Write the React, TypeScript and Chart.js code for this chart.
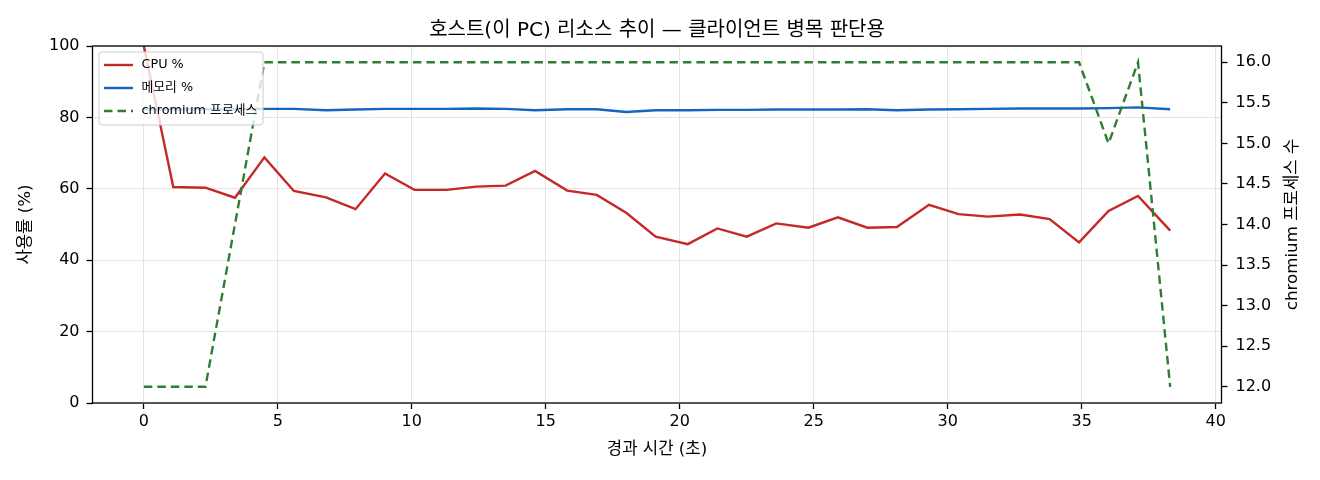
import React, { useEffect, useRef } from "react";
import { Chart, registerables } from "chart.js";

Chart.register(...registerables);

// ---- data ----
const times = [0, 1.1, 2.3, 3.4, 4.5, 5.6, 6.8, 7.9, 9.0, 10.1, 11.3, 12.4, 13.5, 14.6, 15.8, 16.9, 18.0, 19.1, 20.3, 21.4, 22.5, 23.6, 24.8, 25.9, 27.0, 28.1, 29.3, 30.4, 31.5, 32.7, 33.8, 34.9, 36.0, 37.1, 38.3];
const cpuPct = [100, 60.5, 60.3, 57.5, 68.8, 59.4, 57.6, 54.3, 64.3, 59.7, 59.7, 60.6, 60.9, 65.0, 59.5, 58.3, 53.3, 46.6, 44.5, 48.9, 46.6, 50.3, 49.1, 52.0, 49.1, 49.3, 55.5, 52.9, 52.2, 52.8, 51.5, 45.0, 53.8, 58.0, 48.3];
const memPct = [82.3, 82.3, 82.3, 82.3, 82.4, 82.4, 82.0, 82.2, 82.4, 82.4, 82.4, 82.5, 82.4, 82.0, 82.3, 82.3, 81.5, 82.0, 82.0, 82.1, 82.1, 82.2, 82.2, 82.2, 82.3, 82.0, 82.2, 82.3, 82.4, 82.5, 82.5, 82.5, 82.6, 82.8, 82.3];
const chromiumProcs = [12, 12, 12, 14, 16, 16, 16, 16, 16, 16, 16, 16, 16, 16, 16, 16, 16, 16, 16, 16, 16, 16, 16, 16, 16, 16, 16, 16, 16, 16, 16, 16, 15, 16, 12];

const xTicks = [0, 5, 10, 15, 20, 25, 30, 35, 40];
const leftTicks = [0, 20, 40, 60, 80, 100];
const rightTicks = [12.0, 12.5, 13.0, 13.5, 14.0, 14.5, 15.0, 15.5, 16.0];

const titleText = "호스트(이 PC) 리소스 추이 — 클라이언트 병목 판단용";
const xTitle = "경과 시간 (초)";
const yLeftTitle = "사용률 (%)";
const yRightTitle = "chromium 프로세스 수";
const seriesLabels = ["CPU %", "메모리 %", "chromium 프로세스"];
const seriesColors = ["#c62828", "#1565c0", "#2e7d32"];

const FONT = '"DejaVu Sans", "Noto Sans CJK KR", sans-serif';

const toPoints = (ys: number[]) => ys.map((y, i) => ({ x: times[i], y }));

const overlayPlugin = {
  id: "overlay",
  afterDatasetsDraw(chart: any) {
    const { ctx, chartArea: ca } = chart;
    ctx.save();
    ctx.strokeStyle = "#000";
    ctx.lineWidth = 1.3;
    ctx.strokeRect(ca.left, ca.top, ca.right - ca.left, ca.bottom - ca.top);
    ctx.restore();
  },
  afterDraw(chart: any) {
    const { ctx, chartArea: ca } = chart;
    ctx.save();
    // chart title
    ctx.fillStyle = "#000";
    ctx.font = `20px ${FONT}`;
    ctx.textAlign = "center";
    ctx.textBaseline = "middle";
    ctx.fillText(titleText, (ca.left + ca.right) / 2, 31);

    // right axis title (reads bottom to top)
    ctx.save();
    ctx.translate(1293, (ca.top + ca.bottom) / 2);
    ctx.rotate(-Math.PI / 2);
    ctx.font = `16.7px ${FONT}`;
    ctx.fillText(yRightTitle, 0, 0);
    ctx.restore();

    // legend box
    const bx = 99, by = 52, bw = 164, bh = 73, r = 3;
    ctx.beginPath();
    ctx.moveTo(bx + r, by);
    ctx.lineTo(bx + bw - r, by);
    ctx.quadraticCurveTo(bx + bw, by, bx + bw, by + r);
    ctx.lineTo(bx + bw, by + bh - r);
    ctx.quadraticCurveTo(bx + bw, by + bh, bx + bw - r, by + bh);
    ctx.lineTo(bx + r, by + bh);
    ctx.quadraticCurveTo(bx, by + bh, bx, by + bh - r);
    ctx.lineTo(bx, by + r);
    ctx.quadraticCurveTo(bx, by, bx + r, by);
    ctx.closePath();
    ctx.fillStyle = "rgba(255,255,255,0.8)";
    ctx.fill();
    ctx.strokeStyle = "#cccccc";
    ctx.lineWidth = 1;
    ctx.stroke();

    const rows = [65, 88, 111];
    chart.data.datasets.forEach((ds: any, i: number) => {
      const y = rows[i];
      ctx.beginPath();
      ctx.strokeStyle = ds.borderColor;
      ctx.lineWidth = 2.4;
      ctx.lineCap = "butt";
      ctx.setLineDash(ds.borderDash || []);
      ctx.moveTo(104, y);
      ctx.lineTo(133, y);
      ctx.stroke();
      ctx.setLineDash([]);
      ctx.fillStyle = "#000";
      ctx.font = `12.8px ${FONT}`;
      ctx.textAlign = "left";
      ctx.textBaseline = "middle";
      ctx.fillText(ds.label, 141.5, y);
    });
    ctx.restore();
  },
};

export default function App() {
  const canvasRef = useRef<HTMLCanvasElement | null>(null);

  useEffect(() => {
    if (!canvasRef.current) return;
    const tickFont = { family: FONT, size: 16 };
    const chart = new Chart(canvasRef.current, {
      type: "line",
      data: {
        datasets: [
          {
            label: seriesLabels[0],
            data: toPoints(cpuPct),
            borderColor: seriesColors[0],
            backgroundColor: seriesColors[0],
            borderWidth: 2.4,
            pointRadius: 0,
            tension: 0,
            yAxisID: "y",
            order: 2,
          },
          {
            label: seriesLabels[1],
            data: toPoints(memPct),
            borderColor: seriesColors[1],
            backgroundColor: seriesColors[1],
            borderWidth: 2.4,
            pointRadius: 0,
            tension: 0,
            yAxisID: "y",
            order: 1,
          },
          {
            label: seriesLabels[2],
            data: toPoints(chromiumProcs),
            borderColor: seriesColors[2],
            backgroundColor: seriesColors[2],
            borderWidth: 2.4,
            borderDash: [8.5, 5],
            borderCapStyle: "butt",
            pointRadius: 0,
            tension: 0,
            yAxisID: "y1",
            order: 0,
          },
        ],
      },
      options: {
        animation: false,
        responsive: true,
        maintainAspectRatio: false,
        parsing: true,
        layout: { padding: { top: 46, left: 0, right: 0, bottom: 0 } },
        plugins: {
          legend: { display: false },
          title: { display: false },
          tooltip: { enabled: false },
        },
        scales: {
          x: {
            type: "linear",
            position: "bottom",
            min: -1.915,
            max: 40.215,
            afterBuildTicks: (s: any) => {
              s.ticks = xTicks.map((v) => ({ value: v }));
            },
            afterFit: (s: any) => {
              s.height = 77;
            },
            grid: {
              color: "#e4e4e4",
              lineWidth: 1,
              tickColor: "#000",
              tickLength: 6,
              tickWidth: 1.3,
            },
            border: { display: false },
            ticks: {
              color: "#000",
              font: tickFont,
              padding: 3,
              maxRotation: 0,
              autoSkip: false,
              callback: (v: any) => String(v),
            },
            title: {
              display: true,
              text: xTitle,
              color: "#000",
              font: { family: FONT, size: 16.7 },
              padding: { top: 0, bottom: 20 },
            },
          },
          y: {
            type: "linear",
            position: "left",
            min: 0,
            max: 100,
            afterBuildTicks: (s: any) => {
              s.ticks = leftTicks.map((v) => ({ value: v }));
            },
            afterFit: (s: any) => {
              s.width = 92.5;
            },
            grid: {
              color: "#e4e4e4",
              lineWidth: 1,
              tickColor: "#000",
              tickLength: 6,
              tickWidth: 1.3,
            },
            border: { display: false },
            ticks: {
              color: "#000",
              font: tickFont,
              padding: 7,
              autoSkip: false,
              callback: (v: any) => String(v),
            },
            title: {
              display: true,
              text: yLeftTitle,
              color: "#000",
              font: { family: FONT, size: 16.7 },
              padding: { top: 16, bottom: 0 },
            },
          },
          y1: {
            type: "linear",
            position: "right",
            min: 11.8,
            max: 16.2,
            afterBuildTicks: (s: any) => {
              s.ticks = rightTicks.map((v) => ({ value: v }));
            },
            afterFit: (s: any) => {
              s.width = 98.5;
            },
            grid: {
              drawOnChartArea: false,
              tickColor: "#000",
              tickLength: 6,
              tickWidth: 1.3,
            },
            border: { display: false },
            ticks: {
              color: "#000",
              font: tickFont,
              padding: 8,
              autoSkip: false,
              callback: (v: any) => Number(v).toFixed(1),
            },
            title: { display: false },
          },
        },
      } as any,
      plugins: [overlayPlugin],
    });
    return () => chart.destroy();
  }, []);

  return (
    <div style={{ position: "absolute", left: 0, top: 0, width: 1320, height: 480, background: "#fff" }}>
      <canvas ref={canvasRef} />
    </div>
  );
}
